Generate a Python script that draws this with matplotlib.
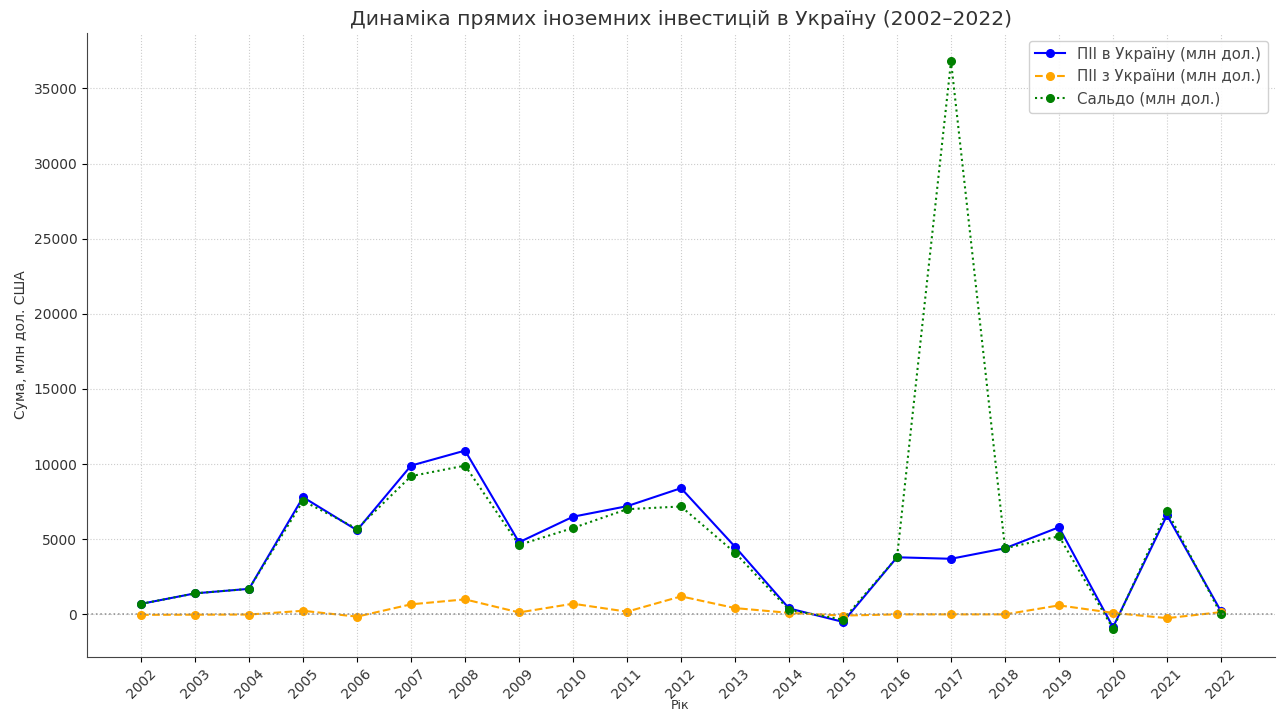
import matplotlib
matplotlib.use("Agg")
import matplotlib.pyplot as plt

# data (млн дол. США)
years = list(range(2002, 2023))
fdi_in = [700, 1400, 1700, 7800, 5600, 9900, 10900, 4800, 6500, 7200, 8400,
          4500, 400, -500, 3800, 3700, 4400, 5800, -850, 6600, 200]
fdi_out = [-30, -20, -10, 240, -150, 670, 1000, 130, 710, 180, 1200,
           420, 100, -80, 0, 0, 0, 600, 100, -250, 150]
saldo = [700, 1400, 1700, 7550, 5700, 9200, 9900, 4620, 5750, 7000, 7180,
         4100, 300, -350, 3800, 36800, 4400, 5200, -950, 6900, 0]

fig = plt.figure(figsize=(12.84, 7.13), dpi=100)
ax = fig.add_axes([0.0678, 0.0785, 0.9252, 0.8752])

ax.plot(years, fdi_in, color='blue', linestyle='-', marker='o', markersize=5.5,
        label='ПІІ в Україну (млн дол.)')
ax.plot(years, fdi_out, color='orange', linestyle='--', marker='o', markersize=5.5,
        label='ПІІ з України (млн дол.)')
ax.plot(years, saldo, color='green', linestyle=':', marker='o', markersize=5.5,
        label='Сальдо (млн дол.)')
ax.axhline(0, color='gray', linestyle=':', linewidth=1.2, alpha=0.8)

ax.set_title('Динаміка прямих іноземних інвестицій в Україну (2002–2022)',
             fontsize=14.6, color='#333333')
ax.set_xlabel('Рік', fontsize=9, color='#333333')
# keep the axis label inside the picture, right at the bottom edge
ax.xaxis.set_label_coords(0.53, 0.001, transform=fig.transFigure)
ax.xaxis.label.set_verticalalignment('bottom')
ax.set_ylabel('Сума, млн дол. США', fontsize=10, color='#333333')
ax.set_xticks(years)
ax.set_xticklabels([str(y) for y in years], rotation=45, fontsize=10, color='#333333')
ax.tick_params(axis='y', labelsize=10, labelcolor='#333333')
ax.grid(True, linestyle=':', color='#cccccc', linewidth=0.8)
ax.spines['top'].set_visible(False)
ax.spines['right'].set_visible(False)
ax.spines['left'].set_color('#444444')
ax.spines['bottom'].set_color('#444444')
leg = ax.legend(loc='upper right', fontsize=10.8, framealpha=0.9)
for t in leg.get_texts():
    t.set_color('#444444')

fig.savefig('out.png', dpi=100)
